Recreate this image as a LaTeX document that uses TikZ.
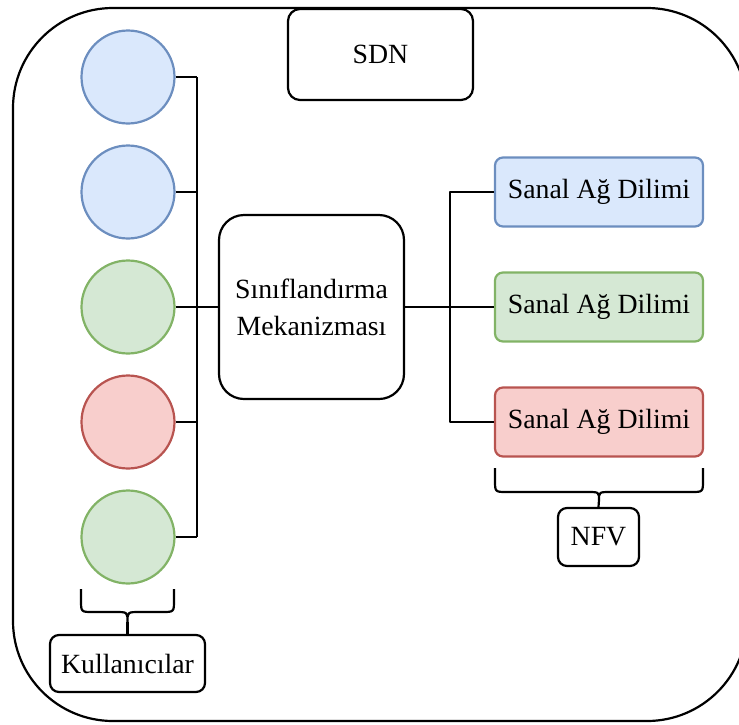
\documentclass[tikz,border=0pt]{standalone}
\usepackage{fontspec}
\setmainfont{Liberation Serif}
\definecolor{bluefill}{HTML}{DAE8FC}
\definecolor{bluedraw}{HTML}{6C8EBF}
\definecolor{greenfill}{HTML}{D5E8D4}
\definecolor{greendraw}{HTML}{82B366}
\definecolor{redfill}{HTML}{F8CECC}
\definecolor{reddraw}{HTML}{B85450}
\begin{document}
\begin{tikzpicture}[x=0.5pt,y=-0.5pt,
  base/.style={line width=1.1pt, inner sep=0pt, align=center,
    font=\fontsize{13.9}{18.5}\selectfont},
  user/.style={base, circle, minimum size=46.5pt},
  blueuser/.style={user, draw=bluedraw, fill=bluefill},
  greenuser/.style={user, draw=greendraw, fill=greenfill},
  reduser/.style={user, draw=reddraw, fill=redfill},
  slice/.style={base, rounded corners=4pt, minimum width=104pt, minimum height=34.5pt},
  label/.style={base, draw, rounded corners=4.5pt},
  wire/.style={line width=1.1pt, line join=round}]
\useasboundingbox (0,0) rectangle (739,724);

% enclosing SDN domain
\node[base, draw, rounded corners=50pt, minimum width=367pt, minimum height=356.5pt]
  (domain) at (380,364.5) {};
\node[label, rounded corners=6pt, minimum width=92.5pt, minimum height=45.5pt, fill=white]
  (sdn) at (380.5,54.5) {SDN};

% users
\node[blueuser]  (u1) at (128,77)  {};
\node[blueuser]  (u2) at (128,192) {};
\node[greenuser] (u3) at (128,307) {};
\node[reduser]   (u4) at (128,422) {};
\node[greenuser] (u5) at (128,537) {};

% classifier
\node[base, draw, rounded corners=12.5pt, minimum width=92.5pt, minimum height=92pt]
  (cls) at (311.5,307) {Sınıflandırma\\Mekanizması};

% network slices
\node[slice, draw=bluedraw, fill=bluefill]   (s1) at (599,192) {Sanal Ağ Dilimi};
\node[slice, draw=greendraw, fill=greenfill] (s2) at (599,307) {Sanal Ağ Dilimi};
\node[slice, draw=reddraw, fill=redfill]     (s3) at (599,422) {Sanal Ağ Dilimi};

% group labels
\node[label, minimum width=77.5pt, minimum height=28.5pt] (users) at (127.5,663.5) {Kullanıcılar};
\node[label, minimum width=40.5pt, minimum height=29pt] (nfv) at (598.5,537) {NFV};

% user bus
\coordinate (lbus) at (197,0);
\foreach \u in {u1,u2,u4,u5}
  \draw[wire] (\u.east) -- (\u.east -| lbus);
\draw[wire] (u1.east -| lbus) -- (u5.east -| lbus);
\draw[wire] (u3.east) -- (cls.west);

% slice bus
\coordinate (rbus) at (450,0);
\draw[wire] (cls.east) -- (s2.west);
\draw[wire] (s1.west) -- (s1.west -| rbus) -- (s3.west -| rbus) -- (s3.west);

% brace under the users
\coordinate (ub) at (127.5,622);
\draw[wire] (81,589) -- (81,600) .. controls (81,612) .. (93,612) -- (115,612)
  .. controls (127.5,612) .. (ub) .. controls (127.5,612) .. (140,612) -- (162,612)
  .. controls (174,612) .. (174,600) -- (174,589);
\draw[wire] (ub) -- (users.north);

% brace under the slices
\coordinate (nb) at (599,500);
\draw[wire] (495,468) -- (495,480) .. controls (495,492) .. (507,492) -- (587,492)
  .. controls (599,492) .. (nb) .. controls (599,492) .. (611,492) -- (691,492)
  .. controls (703,492) .. (703,480) -- (703,468);
\draw[wire] (nb) -- (nfv.north);
\end{tikzpicture}
\end{document}
